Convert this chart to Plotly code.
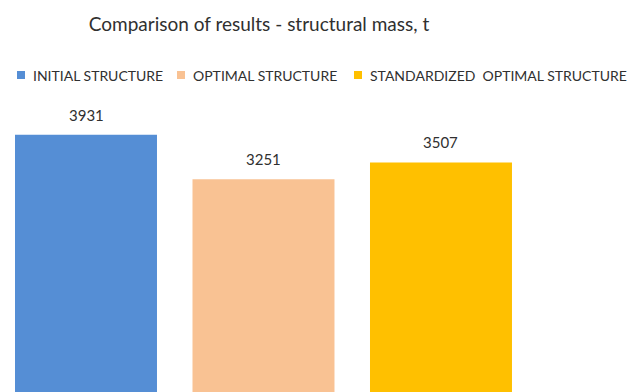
import plotly.graph_objects as go

# Structural mass of each design variant, tonnes
categories = ["INITIAL STRUCTURE", "OPTIMAL STRUCTURE", "STANDARDIZED  OPTIMAL STRUCTURE"]
mass_t = [3931, 3251, 3507]
colors = ["#558ED5", "#F9C293", "#FFC000"]

font_family = "Lato, 'Open Sans', sans-serif"
text_color = "#303030"

W, H = 643, 392
M_L, M_R, M_T, M_B = 0, 113, 100, 0
PW, PH = W - M_L - M_R, H - M_T - M_B


def px_x(px):
    """Horizontal pixel position -> paper coordinate."""
    return (px - M_L) / PW


def px_y(py):
    """Vertical pixel position (from top) -> paper coordinate."""
    return (H - M_B - py) / PH


fig = go.Figure()
for name, val, col in zip(categories, mass_t, colors):
    fig.add_trace(go.Bar(
        x=[name], y=[val], name=name,
        marker=dict(color=col, line=dict(width=0)),
        showlegend=False,
    ))
    # value label above each bar
    fig.add_annotation(
        x=name, y=val, text=str(val), showarrow=False,
        yanchor="bottom", yshift=9,
        font=dict(family=font_family, size=15, color=text_color),
    )

# compact legend row: small colour square followed by the series name
legend_x = [17, 177, 354]
legend_y = 75
sq = 8
for lx, name, col in zip(legend_x, categories, colors):
    fig.add_shape(
        type="rect", xref="paper", yref="paper",
        x0=px_x(lx), x1=px_x(lx + sq),
        y0=px_y(legend_y + sq / 2), y1=px_y(legend_y - sq / 2),
        fillcolor=col, line=dict(width=0),
    )
    fig.add_annotation(
        xref="paper", yref="paper", x=px_x(lx + 14), y=px_y(legend_y),
        xanchor="left", yanchor="middle", showarrow=False, text=name,
        font=dict(family=font_family, size=14, color=text_color),
    )

fig.update_layout(
    width=W, height=H,
    margin=dict(l=M_L, r=M_R, t=M_T, b=M_B),
    paper_bgcolor="white", plot_bgcolor="white",
    barmode="overlay", bargap=0.2,
    showlegend=False,
    title=dict(
        text="Comparison of results - structural mass, t",
        x=px_x(259), xref="paper", xanchor="center",
        y=1 - 24 / H, yref="container", yanchor="middle",
        font=dict(family=font_family, size=19, color=text_color),
    ),
    xaxis=dict(visible=False, range=[-0.4845, 2.5015],
               categoryorder="array", categoryarray=categories),
    yaxis=dict(visible=False, range=[0, 4461]),
)

fig.write_html("out.html")
